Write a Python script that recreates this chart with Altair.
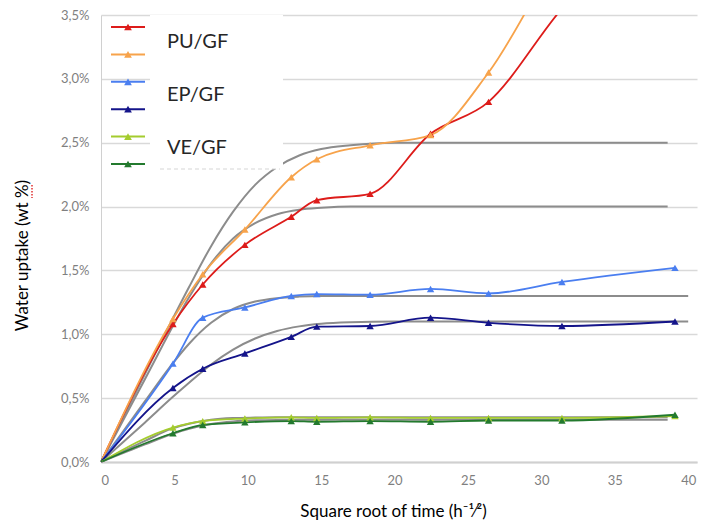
import altair as alt
import pandas as pd

# ---- data ----
sqrt_time = [0, 4.9, 6.93, 9.8, 12.96, 14.7, 18.33, 22.45, 26.4, 31.4, 39.1]

series_names = ["PU/GF (1)", "PU/GF (2)", "EP/GF (1)", "EP/GF (2)", "VE/GF (1)", "VE/GF (2)"]
legend_labels = ["PU/GF", "", "EP/GF", "", "VE/GF", ""]
series_colors = ["#DD1C1A", "#F7A34B", "#4A7EF0", "#14148A", "#A4CC2E", "#237A2E"]

pu_red = [0, 1.08, 1.39, 1.70, 1.92, 2.05, 2.10, 2.57, 2.82, 3.55, 4.40]
pu_orange = [0, 1.12, 1.47, 1.82, 2.23, 2.37, 2.48, 2.56, 3.05, 4.00, 5.00]
ep_blue = [0, 0.77, 1.13, 1.21, 1.30, 1.315, 1.31, 1.355, 1.32, 1.41, 1.52]
ep_navy = [0, 0.58, 0.73, 0.85, 0.98, 1.06, 1.065, 1.13, 1.09, 1.065, 1.10]
ve_light = [0, 0.27, 0.32, 0.34, 0.35, 0.345, 0.35, 0.345, 0.345, 0.345, 0.36]
ve_dark = [0, 0.225, 0.29, 0.31, 0.32, 0.315, 0.32, 0.315, 0.325, 0.325, 0.37]
series_values = [pu_red, pu_orange, ep_blue, ep_navy, ve_light, ve_dark]

# gray fit curves
fit1_x = [0, 3, 6, 7.5, 9, 10.5, 12, 13.5, 15, 17, 20, 38.6]
fit1_y = [0, 0.69, 1.37, 1.69, 1.96, 2.17, 2.31, 2.40, 2.45, 2.48, 2.50, 2.50]
fit2_x = [0, 3, 6, 7.5, 9, 10.5, 12, 13.5, 15, 17, 38.6]
fit2_y = [0, 0.65, 1.29, 1.555, 1.75, 1.87, 1.94, 1.975, 1.99, 2.0, 2.0]
fit3_x = [0, 3, 4.9, 6, 7.5, 9, 10.5, 12, 13.5, 15, 40]
fit3_y = [0, 0.476, 0.774, 0.926, 1.09, 1.198, 1.256, 1.283, 1.295, 1.30, 1.30]
fit4_x = [0, 3, 4.9, 6, 7.5, 9, 10.5, 12, 13.5, 15, 17, 20, 40]
fit4_y = [0, 0.31, 0.51, 0.62, 0.763, 0.88, 0.967, 1.026, 1.062, 1.082, 1.094, 1.10, 1.10]
fit5_x = [0, 3, 4.9, 6, 7.5, 9, 10.5, 12, 15, 38.6]
fit5_y = [0, 0.165, 0.265, 0.30, 0.331, 0.344, 0.348, 0.35, 0.35, 0.35]
fit6_x = [0, 3, 4.9, 6, 7.5, 9, 10.5, 12, 15, 38.6]
fit6_y = [0, 0.138, 0.221, 0.26, 0.297, 0.317, 0.326, 0.329, 0.33, 0.33]
fits = [(fit1_x, fit1_y), (fit2_x, fit2_y), (fit3_x, fit3_y),
        (fit4_x, fit4_y), (fit5_x, fit5_y), (fit6_x, fit6_y)]

x_ticks = [0, 5, 10, 15, 20, 25, 30, 35, 40]
y_ticks = [0, 0.5, 1.0, 1.5, 2.0, 2.5, 3.0, 3.5]

# ---- tables ----
rows = []
for name, vals in zip(series_names, series_values):
    for t, v in zip(sqrt_time, vals):
        rows.append({"series": name, "t": t, "v": v})
df = pd.DataFrame(rows)

frows = []
for i, (fx, fy) in enumerate(fits):
    for t, v in zip(fx, fy):
        frows.append({"fit": f"fit{i+1}", "t": t, "v": v})
fdf = pd.DataFrame(frows)

ldf = pd.DataFrame({"series": series_names, "label": legend_labels,
                    "idx": list(range(len(series_names)))})

FONT = "Lato"
W, H = 596, 447
Y_MAX = 3.5

x_scale = alt.Scale(domain=[0, 40.6], nice=False)
y_scale = alt.Scale(domain=[0, Y_MAX], nice=False)

x_axis = alt.Axis(values=x_ticks, grid=False, ticks=False, labelFontSize=13,
                  labelColor="#7f7f7f", labelFont=FONT, labelPadding=12,
                  domainColor="#d0d0d0", domainWidth=2,
                  title="Square root of time (h⁻¹⁄²)", titleFont=FONT,
                  titleFontSize=17, titleFontWeight="normal", titleColor="#000000",
                  titleX=292, titleY=49, titleAnchor="middle", titleAlign="center",
                  titleBaseline="middle")
y_axis = alt.Axis(values=y_ticks, grid=True, gridColor="#d9d9d9", gridWidth=1.3,
                  ticks=False, labelFontSize=13, labelColor="#7f7f7f", labelFont=FONT,
                  labelPadding=12, domainColor="#d0d0d0", domainWidth=1,
                  labelExpr="replace(format(datum.value, '.1f'), '.', ',') + '%'",
                  title="Water uptake (wt %)", titleFont=FONT, titleFontSize=17,
                  titleFontWeight="normal", titleColor="#000000",
                  titleX=-79, titleY=240, titleAngle=-90, titleAlign="center",
                  titleBaseline="middle")

color_scale = alt.Scale(domain=series_names, range=series_colors)

fit_layer = alt.Chart(fdf).mark_line(color="#8c8c8c", strokeWidth=2,
                                     interpolate="monotone").encode(
    x=alt.X("t:Q", scale=x_scale, axis=x_axis),
    y=alt.Y("v:Q", scale=y_scale, axis=y_axis),
    detail="fit:N",
)

one = alt.Data(values=[{"a": 1}])
legend_bg = alt.Chart(one).mark_rect(fill="white").encode(
    x=alt.value(49), x2=alt.value(182), y=alt.value(0), y2=alt.value(154)
)
legend_edge = alt.Chart(one).mark_rule(
    color="#d6d6d6", strokeDash=[4, 3], strokeWidth=1.2).encode(
    x=alt.value(59), x2=alt.value(179), y=alt.value(154)
)
# spell-check squiggle under "wt" in the y title
squiggle = alt.Chart(one).mark_rule(
    color="#e03030", strokeDash=[1.5, 1.5], strokeWidth=1.5).encode(
    x=alt.value(-69), y=alt.value(170), y2=alt.value(183)
)

line_layer = alt.Chart(df).mark_line(strokeWidth=1.8, interpolate="monotone",
                                     clip=True).encode(
    x=alt.X("t:Q", scale=x_scale),
    y=alt.Y("v:Q", scale=y_scale),
    color=alt.Color("series:N", scale=color_scale, legend=None),
)

point_layer = alt.Chart(df).mark_point(shape="triangle-up", filled=True, size=55,
                                       opacity=1, clip=True).encode(
    x=alt.X("t:Q", scale=x_scale),
    y=alt.Y("v:Q", scale=y_scale),
    color=alt.Color("series:N", scale=color_scale, legend=None),
)

# ---- legend built from the series list ----
leg_base = alt.Chart(ldf).transform_calculate(
    ly=f"{Y_MAX} - (12 + 27.4 * datum.idx) * {Y_MAX} / {H}",
    lty=f"{Y_MAX} - (27 + 26.5 * datum.idx) * {Y_MAX} / {H}",
)
leg_lines = leg_base.mark_rule(strokeWidth=2).encode(
    x=alt.value(10), x2=alt.value(44),
    y=alt.Y("ly:Q", scale=y_scale),
    color=alt.Color("series:N", scale=color_scale, legend=None),
)
leg_marks = leg_base.mark_point(shape="triangle-up", filled=True, size=60,
                                opacity=1).encode(
    x=alt.value(27),
    y=alt.Y("ly:Q", scale=y_scale),
    color=alt.Color("series:N", scale=color_scale, legend=None),
)
leg_text = leg_base.mark_text(align="left", baseline="middle", fontSize=20,
                              font=FONT, color="#262626").encode(
    x=alt.value(66),
    y=alt.Y("lty:Q", scale=y_scale),
    text="label:N",
)

chart = alt.layer(fit_layer, legend_bg, legend_edge, squiggle, line_layer, point_layer,
                  leg_lines, leg_marks, leg_text).properties(
    width=W, height=H,
    autosize=alt.AutoSizeParams(type="none"),
    padding={"left": 93, "top": 7, "right": 3, "bottom": 59},
    background="white",
).configure_view(stroke=None)

chart.save("out.html", embed_options={"renderer": "svg", "actions": False})
